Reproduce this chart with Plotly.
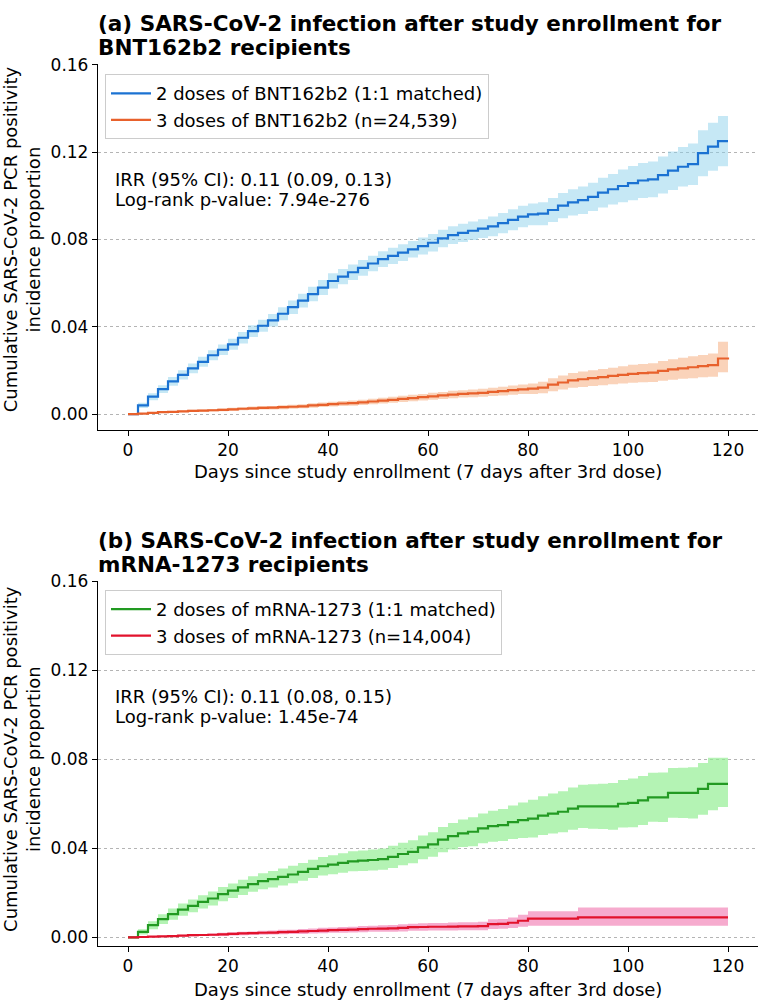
import plotly.graph_objects as go

# ---------------- data ----------------
days = [0, 2, 4, 6, 8, 10, 12, 14, 16, 18, 20, 22, 24, 26, 28, 30, 32, 34, 36, 38, 40,
        42, 44, 46, 48, 50, 52, 54, 56, 58, 60, 62, 64, 66, 68, 70, 72, 74, 76, 78, 80,
        82, 84, 86, 88, 90, 92, 94, 96, 98, 100, 102, 104, 106, 108, 110, 112, 114, 116, 118, 120]

# (a) BNT162b2
bnt_2dose = [0, .004, .008, .0115, .015, .018, .021, .024, .027, .0295, .032, .035, .038, .0405,
             .043, .046, .049, .052, .055, .058, .061, .063, .065, .067, .069, .071, .0725, .074,
             .0755, .077, .0785, .0805, .082, .083, .084, .085, .086, .0875, .089, .0905, .0915,
             .0918, .0935, .0955, .097, .098, .0995, .1015, .103, .1045, .1058, .107, .1075,
             .1095, .1115, .1133, .1145, .1195, .1225, .125, .125]
bnt_2dose_lo = [0, .0028, .0064, .0097, .013, .0159, .0188, .0217, .0247, .0271, .0295, .0324,
                .0353, .0377, .0401, .043, .0459, .0488, .0517, .0546, .0575, .0595, .0615,
                .0634, .0654, .0674, .0688, .0702, .0717, .0731, .0745, .0765, .0779, .0788,
                .0798, .0807, .0815, .0829, .0842, .0856, .0865, .0865, .088, .0897, .091,
                .0917, .093, .0947, .096, .097, .098, .099, .0993, .101, .1027, .1043, .105,
                .109, .1115, .1135, .1135]
bnt_2dose_hi = [0, .0052, .0096, .0133, .017, .0201, .0232, .0263, .0293, .0319, .0345, .0376,
                .0407, .0433, .0459, .049, .0521, .0552, .0583, .0614, .0645, .0665, .0685,
                .0706, .0726, .0746, .0762, .0778, .0793, .0809, .0825, .0845, .0861, .0872,
                .0882, .0893, .0905, .0921, .0938, .0954, .0965, .0971, .099, .1013, .103, .1043,
                .106, .1083, .11, .112, .1136, .115, .1157, .118, .1203, .1223, .124, .13, .1335,
                .1365, .1365]
bnt_3dose = [0, .0003, .0006, .0009, .0011, .0013, .0015, .0016, .0018, .002, .0022, .0025, .0027,
             .0029, .003, .0032, .0034, .0036, .004, .0043, .0046, .0049, .0051, .0054, .0058,
             .0062, .0066, .007, .0074, .0078, .0082, .0086, .009, .0093, .0095, .0098, .0102,
             .0106, .011, .0114, .0117, .0122, .0135, .0145, .0155, .016, .0165, .017, .0175,
             .018, .0185, .0188, .019, .0198, .0205, .021, .0215, .022, .0225, .0255, .026]
bnt_3dose_lo = [0, .0001, .0003, .0006, .0007, .0009, .001, .0011, .0012, .0014, .0015, .0018,
                .0019, .0021, .0022, .0023, .0025, .0027, .003, .0033, .0035, .0038, .0039,
                .0042, .0045, .0049, .0052, .0056, .0059, .0063, .0066, .007, .0073, .0076,
                .0077, .008, .0083, .0086, .0089, .0092, .0093, .0096, .0105, .0113, .0121,
                .0125, .0129, .0133, .0137, .014, .0144, .0146, .0147, .0153, .0158, .0162,
                .0165, .0169, .0172, .0192, .0195]
bnt_3dose_hi = [0, .0005, .0009, .0012, .0015, .0017, .002, .0021, .0024, .0026, .0029, .0032,
                .0035, .0037, .0038, .0041, .0043, .0045, .005, .0053, .0057, .006, .0063,
                .0066, .0071, .0075, .008, .0084, .0089, .0093, .0098, .0102, .0107, .011,
                .0113, .0116, .0121, .0126, .0131, .0136, .0141, .0148, .0165, .0177, .0189,
                .0195, .0201, .0207, .0213, .022, .0226, .023, .0233, .0243, .0252, .0258,
                .0265, .0271, .0278, .0332, .0335]

# (b) mRNA-1273
mrna_2dose = [0, .0025, .0055, .0082, .0105, .0125, .0142, .016, .0175, .0195, .021, .0225, .024,
              .0253, .0262, .0272, .0283, .0295, .0308, .032, .0327, .0335, .0342, .0345, .0348,
              .0352, .0362, .0375, .0385, .0405, .0418, .044, .0455, .0468, .0475, .049, .050,
              .0505, .0518, .0527, .0534, .0548, .0557, .0565, .0579, .0589, .0589, .0589, .0589,
              .0601, .0605, .0616, .063, .063, .065, .065, .065, .0668, .069, .069, .069]
mrna_2dose_lo = [0, .0013, .0037, .006, .008, .0098, .0113, .013, .0144, .0163, .0177, .0191,
                 .0205, .0217, .0225, .0234, .0244, .0255, .0267, .0278, .0284, .0291, .0297,
                 .0299, .0301, .0304, .0312, .0324, .0333, .0352, .0363, .0383, .0395, .0406,
                 .041, .0423, .043, .0433, .0443, .0447, .0449, .0461, .0467, .0473, .0484,
                 .0492, .0489, .0487, .0484, .0494, .0495, .0506, .052, .0519, .0538, .0537,
                 .0535, .0552, .0572, .0586, .0586]
mrna_2dose_hi = [0, .0037, .0073, .0104, .013, .0152, .0171, .019, .0206, .0227, .0243, .0259,
                 .0275, .0289, .0299, .031, .0322, .0335, .0349, .0362, .037, .0379, .0387,
                 .0391, .0395, .04, .0412, .0426, .0437, .0458, .0473, .0497, .0515, .053, .054,
                 .0557, .057, .0577, .0593, .0607, .0619, .0635, .0647, .0657, .0674, .0686,
                 .0689, .0691, .0694, .0708, .0715, .0726, .074, .0741, .0762, .0763, .0765,
                 .0784, .0808, .0808, .0808]
mrna_3dose = [0, .0002, .0004, .0005, .0006, .0008, .001, .0011, .0012, .0014, .0016, .0018,
              .0019, .0021, .0022, .0024, .0025, .0027, .0029, .0031, .0033, .0034, .0035, .0037,
              .0039, .004, .0041, .0043, .0046, .0047, .0048, .0048, .0049, .005, .005, .0051,
              .006, .0061, .0066, .0075, .0085, .0085, .0085, .0085, .0085, .009, .009, .009,
              .009, .009, .009, .009, .009, .009, .009, .009, .009, .009, .009, .009, .009]
mrna_3dose_lo = [0, .0001, .0002, .0002, .0003, .0004, .0005, .0006, .0006, .0007, .0009, .001,
                 .0011, .0012, .0013, .0014, .0015, .0016, .0018, .0019, .0021, .0021, .0022,
                 .0023, .0025, .0025, .0026, .0027, .003, .003, .0031, .0031, .0031, .0032,
                 .0032, .0032, .0038, .0039, .0042, .0048, .0052, .0052, .0052, .0052, .0052,
                 .0053, .0053, .0053, .0053, .0053, .0053, .0053, .0053, .0053, .0053, .0053,
                 .0053, .0053, .0053, .0053, .0053]
mrna_3dose_hi = [0, .0004, .0006, .0008, .0009, .0012, .0015, .0016, .0018, .0021, .0023, .0026,
                 .0027, .003, .0031, .0034, .0035, .0038, .004, .0043, .0045, .0047, .0048,
                 .0051, .0053, .0055, .0056, .0059, .0062, .0064, .0065, .0065, .0067, .0068,
                 .0068, .007, .0082, .0083, .009, .0102, .0118, .0118, .0118, .0118, .0118,
                 .0135, .0135, .0135, .0135, .0135, .0135, .0135, .0135, .0135, .0135, .0135,
                 .0135, .0135, .0135, .0135, .0135]

y_ticks = [0.00, 0.04, 0.08, 0.12, 0.16]
y_tick_text = ["0.00", "0.04", "0.08", "0.12", "0.16"]
x_ticks = [0, 20, 40, 60, 80, 100, 120]

titles = [["(a) SARS-CoV-2 infection after study enrollment for", "BNT162b2 recipients"],
          ["(b) SARS-CoV-2 infection after study enrollment for", "mRNA-1273 recipients"]]
names_a = ["2 doses of BNT162b2 (1:1 matched)", "3 doses of BNT162b2 (n=24,539)"]
names_b = ["2 doses of mRNA-1273 (1:1 matched)", "3 doses of mRNA-1273 (n=14,004)"]
stats_a = ["IRR (95% CI): 0.11 (0.09, 0.13)", "Log-rank p-value: 7.94e-276"]
stats_b = ["IRR (95% CI): 0.11 (0.08, 0.15)", "Log-rank p-value: 1.45e-74"]
x_title = "Days since study enrollment (7 days after 3rd dose)"
y_title = "Cumulative SARS-CoV-2 PCR positivity<br>incidence proportion"

# ---------------- styling ----------------
W, H = 760, 1003
FONT = "DejaVu Sans"
col_blue, band_blue = "#1b72d2", "rgba(135,206,235,0.48)"
col_orange, band_orange = "#e8612c", "rgba(244,150,90,0.42)"
col_green, band_green = "#229a22", "rgba(144,238,144,0.68)"
col_red, band_red = "#e2122c", "rgba(240,110,170,0.58)"


def py(p):  # pixel from top -> paper fraction
    return 1 - p / H


def px(p):
    return p / W


fig = go.Figure()


def add_band(xa, ya, lo, hi, color):
    fig.add_trace(go.Scatter(x=days, y=lo, xaxis=xa, yaxis=ya, mode="lines",
                             line=dict(width=0, shape="hv"), showlegend=False,
                             hoverinfo="skip"))
    fig.add_trace(go.Scatter(x=days, y=hi, xaxis=xa, yaxis=ya, mode="lines",
                             line=dict(width=0, shape="hv"), fill="tonexty",
                             fillcolor=color, showlegend=False, hoverinfo="skip"))


def add_line(xa, ya, vals, color, name, legend):
    fig.add_trace(go.Scatter(x=days, y=vals, xaxis=xa, yaxis=ya, mode="lines",
                             line=dict(width=2.2, color=color, shape="hv"),
                             name=name, legend=legend))


add_band("x", "y", bnt_2dose_lo, bnt_2dose_hi, band_blue)
add_band("x", "y", bnt_3dose_lo, bnt_3dose_hi, band_orange)
add_line("x", "y", bnt_2dose, col_blue, names_a[0], "legend")
add_line("x", "y", bnt_3dose, col_orange, names_a[1], "legend")

add_band("x2", "y2", mrna_2dose_lo, mrna_2dose_hi, band_green)
add_band("x2", "y2", mrna_3dose_lo, mrna_3dose_hi, band_red)
add_line("x2", "y2", mrna_2dose, col_green, names_b[0], "legend2")
add_line("x2", "y2", mrna_3dose, col_red, names_b[1], "legend2")

xdom = [px(98), px(758)]
axis_common = dict(showline=True, linecolor="black", linewidth=1.3, ticks="outside",
                   ticklen=5, tickwidth=1.3, tickcolor="black", zeroline=False,
                   tickfont=dict(family=FONT, size=17, color="black"))

xaxis = dict(axis_common, domain=xdom, range=[-6, 126], tickvals=x_ticks, showgrid=False)
yaxis_a = dict(axis_common, domain=[py(425), py(55)], range=[-0.0072, 0.1602],
               tickvals=y_ticks, ticktext=y_tick_text, showgrid=True, gridcolor="#b4b4b4",
               griddash="dot", gridwidth=1)
yaxis_b = dict(axis_common, domain=[py(947), py(578)], range=[-0.0037, 0.1602],
               tickvals=y_ticks, ticktext=y_tick_text, showgrid=True, gridcolor="#b4b4b4",
               griddash="dot", gridwidth=1)

legend_common = dict(xanchor="left", yanchor="top", bgcolor="rgba(255,255,255,0.85)",
                     bordercolor="#cccccc", borderwidth=1, traceorder="normal",
                     font=dict(family=FONT, size=18, color="black"),
                     itemwidth=40, tracegroupgap=0)

annotations = []
for (l1, l2), (t1, t2) in zip(titles, [(14, 38), (537, 561)]):
    for txt, t in ((l1, t1), (l2, t2)):
        annotations.append(dict(text="<b>%s</b>" % txt, x=px(96), y=py(t), xref="paper",
                                yref="paper", xanchor="left", yanchor="middle",
                                showarrow=False,
                                font=dict(family=FONT, size=21.5, color="black")))
for (s1, s2), (t1, t2) in zip([stats_a, stats_b], [(172, 192), (695, 715)]):
    for s, t in ((s1, t1), (s2, t2)):
        annotations.append(dict(text=s, x=px(113), y=py(t), xref="paper", yref="paper",
                                xanchor="left", yanchor="middle", showarrow=False,
                                font=dict(family=FONT, size=18, color="black")))
for yc in (232, 758):
    annotations.append(dict(text=y_title, x=px(22), y=py(yc), xref="paper", yref="paper",
                            xanchor="center", yanchor="middle", textangle=-90,
                            showarrow=False, font=dict(family=FONT, size=18, color="black")))
for yc in (467, 991):
    annotations.append(dict(text=x_title, x=px(428), y=py(yc), xref="paper", yref="paper",
                            xanchor="center", yanchor="middle", showarrow=False,
                            font=dict(family=FONT, size=18, color="black")))

fig.update_layout(
    width=W, height=H, autosize=False,
    margin=dict(l=0, r=0, t=0, b=0),
    paper_bgcolor="white", plot_bgcolor="white",
    font=dict(family=FONT, color="black"),
    xaxis=dict(xaxis, anchor="y"), yaxis=dict(yaxis_a, anchor="x"),
    xaxis2=dict(xaxis, anchor="y2"), yaxis2=dict(yaxis_b, anchor="x2"),
    legend=dict(legend_common, x=px(105), y=py(65)),
    legend2=dict(legend_common, x=px(105), y=py(587)),
    annotations=annotations,
    showlegend=True,
)

fig.write_html("out.html", config={"displayModeBar": False},
               post_script="document.body.style.margin='0';document.body.style.overflow='hidden';")
